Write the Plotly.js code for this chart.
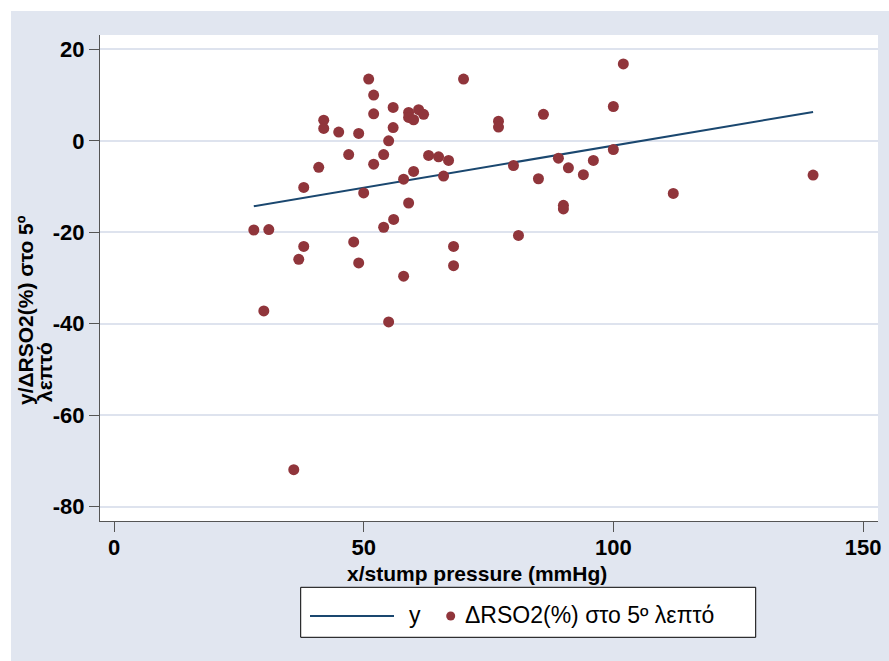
<!DOCTYPE html>
<html>
<head>
<meta charset="utf-8">
<script src="https://cdn.plot.ly/plotly-3.0.1.min.js"></script>
<style>
  html, body { margin: 0; padding: 0; background: #ffffff; width: 889px; height: 661px; overflow: hidden; }
  #chart { position: absolute; left: 11px; top: 11px; width: 878px; height: 650px; }
</style>
</head>
<body>
<div id="chart"></div>
<script>
// Data
const stumpPressure = [51, 70, 52, 52, 55.9, 42, 42, 45, 49, 55.9,
  59, 59, 60, 61, 62, 55, 47, 54, 52, 63,
  65, 67, 41, 60, 66, 58, 38, 50, 59, 56,
  54, 28, 31, 38, 48, 68, 37, 49, 68, 58,
  30, 55, 36, 102, 77, 77, 86, 100, 80, 85,
  89, 91, 96, 94, 100, 90, 90, 81, 112, 140];
const deltaRSO2 = [13.5, 13.5, 10.0, 5.9, 7.3, 4.5, 2.7, 1.9, 1.6, 2.9,
  6.2, 5.1, 4.6, 6.8, 5.8, 0.0, -3.0, -3.0, -5.1, -3.2,
  -3.5, -4.3, -5.8, -6.7, -7.7, -8.4, -10.2, -11.4, -13.6, -17.2,
  -18.9, -19.5, -19.4, -23.1, -22.1, -23.1, -25.9, -26.7, -27.3, -29.6,
  -37.2, -39.6, -71.9, 16.8, 4.3, 3.0, 5.8, 7.5, -5.4, -8.3,
  -3.8, -5.9, -4.3, -7.4, -1.9, -14.1, -14.9, -20.7, -11.5, -7.5];
const fitX = [28, 140];
const fitY = [-14.3, 6.3];
const xTicks = [0, 50, 100, 150];
const yTicks = [20, 0, -20, -40, -60, -80];
const xTitle = 'x/stump pressure (mmHg)';
const yTitleLine1 = 'y/ΔRSO2(%) στο 5º';
const yTitleLine2 = 'λεπτό';
const legendFit = 'y';
const legendScatter = 'ΔRSO2(%) στο 5º λεπτό';

const navy = '#1A476F';
const cranberry = '#90353B';
const bg = '#E1E6F0';
const gridCol = '#DEE3EE';
const fontFam = '"Liberation Sans", Arial, sans-serif';

// page pixel -> paper coordinate helpers (plot area: x 100..878, y 35..521 on page)
const PL = 100, PT = 35, PW = 778, PH = 486;
const xp = px => (px - PL) / PW;
const yp = py => 1 - (py - PT) / PH;

const traces = [
  {
    x: fitX, y: fitY, type: 'scatter', mode: 'lines',
    line: { color: navy, width: 2 }, hoverinfo: 'skip', showlegend: false
  },
  {
    x: stumpPressure, y: deltaRSO2, type: 'scatter', mode: 'markers',
    marker: { color: cranberry, size: 11 }, showlegend: false
  }
];

const layout = {
  width: 878, height: 650,
  margin: { l: 89, r: 11, t: 24, b: 140, pad: 0 },
  paper_bgcolor: bg,
  plot_bgcolor: '#ffffff',
  showlegend: false,
  font: { family: fontFam, color: '#000000' },
  xaxis: {
    range: [-2.804, 153.0],
    tickvals: xTicks, ticktext: xTicks.map(String),
    showgrid: false, zeroline: false,
    showline: true, linecolor: '#555555', linewidth: 1,
    ticks: 'outside', ticklen: 10, tickwidth: 1, tickcolor: '#555555',
    ticklabelstandoff: -3,
    tickfont: { family: fontFam, size: 22, weight: 'bold', color: '#000000' }
  },
  yaxis: {
    range: [-83.12, 23.13],
    tickvals: yTicks, ticktext: yTicks.map(String),
    showgrid: true, gridcolor: gridCol, gridwidth: 2,
    zeroline: false,
    showline: true, linecolor: '#555555', linewidth: 1,
    ticks: 'outside', ticklen: 10, tickwidth: 1, tickcolor: '#555555',
    tickfont: { family: fontFam, size: 22, weight: 'bold', color: '#000000' }
  },
  shapes: [
    // legend box
    { type: 'rect', xref: 'paper', yref: 'paper',
      x0: xp(300.7), x1: xp(755.7), y0: yp(587.3), y1: yp(637.3),
      fillcolor: '#ffffff', line: { color: '#000000', width: 1 }, layer: 'above' },
    // legend line sample
    { type: 'line', xref: 'paper', yref: 'paper',
      x0: xp(310), x1: xp(394), y0: yp(616), y1: yp(616),
      line: { color: navy, width: 2 }, layer: 'above' },
    // legend marker sample
    { type: 'circle', xref: 'paper', yref: 'paper',
      x0: xp(446.2), x1: xp(455.2), y0: yp(611.5), y1: yp(620.5),
      fillcolor: cranberry, line: { color: cranberry, width: 0 }, layer: 'above' }
  ],
  annotations: [
    { text: xTitle, xref: 'paper', yref: 'paper', x: xp(477), y: yp(573),
      xanchor: 'center', yanchor: 'middle', showarrow: false,
      font: { family: fontFam, size: 21, weight: 'bold', color: '#000000' } },
    { text: yTitleLine1, xref: 'paper', yref: 'paper', x: xp(25), y: yp(310),
      xanchor: 'center', yanchor: 'middle', showarrow: false, textangle: -90,
      font: { family: fontFam, size: 21, weight: 'bold', color: '#000000' } },
    { text: yTitleLine2, xref: 'paper', yref: 'paper', x: xp(44), y: yp(372),
      xanchor: 'center', yanchor: 'middle', showarrow: false, textangle: -90,
      font: { family: fontFam, size: 21, weight: 'bold', color: '#000000' } },
    { text: legendFit, xref: 'paper', yref: 'paper', x: xp(407), y: yp(615),
      xanchor: 'left', yanchor: 'middle', showarrow: false,
      font: { family: fontFam, size: 23, color: '#000000' } },
    { text: legendScatter, xref: 'paper', yref: 'paper', x: xp(463), y: yp(615),
      xanchor: 'left', yanchor: 'middle', showarrow: false,
      font: { family: fontFam, size: 23, color: '#000000' } }
  ]
};

Plotly.newPlot('chart', traces, layout, { displayModeBar: false, staticPlot: true });
</script>
</body>
</html>
